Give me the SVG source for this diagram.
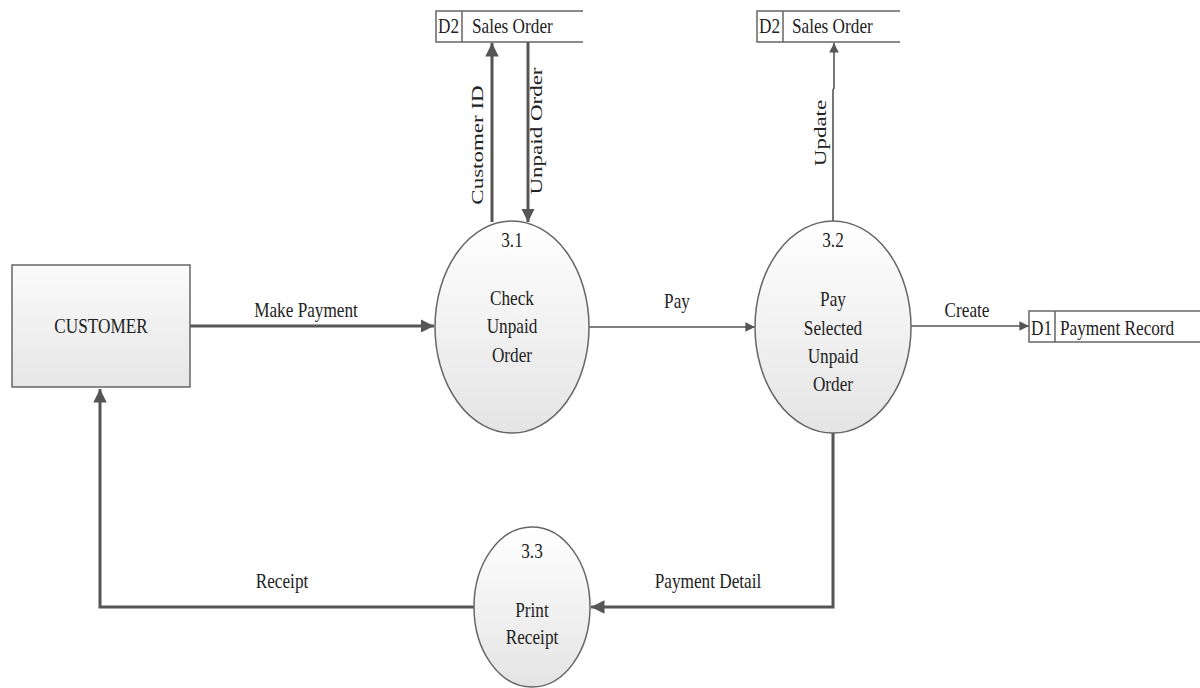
<svg xmlns="http://www.w3.org/2000/svg" width="1200" height="688" viewBox="0 0 1200 688">
  <defs>
    <linearGradient id="procFill" x1="0" y1="0" x2="0" y2="1">
      <stop offset="0" stop-color="#ffffff"/>
      <stop offset="1" stop-color="#e4e4e4"/>
    </linearGradient>
    <linearGradient id="entFill" x1="0" y1="0" x2="0" y2="1">
      <stop offset="0" stop-color="#fbfbfb"/>
      <stop offset="1" stop-color="#e6e6e6"/>
    </linearGradient>
    <marker id="arrowBig" viewBox="0 0 10 10" refX="10" refY="5" markerWidth="4.5" markerHeight="4.5" markerUnits="strokeWidth" orient="auto">
      <path d="M0,0 L10,5 L0,10 Z" fill="#555"/>
    </marker>
    <marker id="arrowSmall" viewBox="0 0 10 10" refX="10" refY="5" markerWidth="6" markerHeight="6" markerUnits="strokeWidth" orient="auto">
      <path d="M0,0 L10,5 L0,10 Z" fill="#555"/>
    </marker>
  </defs>
  <style>
    text { font-family: "Liberation Serif", "Times New Roman", serif; font-size: 21px; fill: #222; }
    text.v { font-size: 23px; }
    .mid { text-anchor: middle; }
    .proc { fill: url(#procFill); stroke: #666; stroke-width: 1.5; }
    .ent { fill: url(#entFill); stroke: #666; stroke-width: 1.5; }
    .store { fill: none; stroke: #666; stroke-width: 1.5; }
    .thick { fill: none; stroke: #555; stroke-width: 3; }
    .thin { fill: none; stroke: #555; stroke-width: 1.6; }
  </style>

  <rect width="1200" height="688" fill="#ffffff"/>

  <!-- data flows (labels use narrow, tall lettering via scale) -->
  <g id="connectors">
    <line class="thick" x1="190" y1="326" x2="434" y2="326" marker-end="url(#arrowBig)"/>
    <line class="thick" x1="492" y1="222" x2="492" y2="43" marker-end="url(#arrowBig)"/>
    <line class="thick" x1="528" y1="42" x2="528" y2="222" marker-end="url(#arrowBig)"/>
    <line class="thin" x1="589" y1="327" x2="755" y2="327" marker-end="url(#arrowSmall)"/>
    <path class="thin" d="M833,221 L833,90 L834,88 L834,43" marker-end="url(#arrowSmall)"/>
    <line class="thin" x1="911" y1="326" x2="1029" y2="326" marker-end="url(#arrowSmall)"/>
    <path class="thick" d="M833,432 L833,607 L591,607" marker-end="url(#arrowBig)"/>
    <path class="thick" d="M474,607 L100,607 L100,389" marker-end="url(#arrowBig)"/>

    <text class="mid" transform="translate(306,317) scale(0.82,1)">Make Payment</text>
    <text class="mid v" transform="translate(483,145) rotate(-90) scale(1,0.76)">Customer ID</text>
    <text class="mid v" transform="translate(542,131) rotate(-90) scale(1,0.76)">Unpaid Order</text>
    <text class="mid" transform="translate(677,308) scale(0.82,1)">Pay</text>
    <text class="mid v" transform="translate(826,133) rotate(-90) scale(1,0.76)">Update</text>
    <text class="mid" transform="translate(967,317) scale(0.82,1)">Create</text>
    <text class="mid" transform="translate(708,588) scale(0.82,1)">Payment Detail</text>
    <text class="mid" transform="translate(282,588) scale(0.82,1)">Receipt</text>
  </g>

  <!-- external entity -->
  <g id="customer">
    <rect class="ent" x="12" y="265" width="178" height="122"/>
    <text class="mid" transform="translate(101,333) scale(0.82,1)">CUSTOMER</text>
  </g>

  <!-- processes -->
  <g id="p3-1">
    <ellipse class="proc" cx="512" cy="327" rx="77" ry="106"/>
    <text class="mid" transform="translate(512,247) scale(0.82,1)">3.1</text>
    <text class="mid" transform="translate(512,305) scale(0.82,1)">Check</text>
    <text class="mid" transform="translate(512,333) scale(0.82,1)">Unpaid</text>
    <text class="mid" transform="translate(512,362) scale(0.82,1)">Order</text>
  </g>

  <g id="p3-2">
    <ellipse class="proc" cx="833" cy="327" rx="78" ry="106"/>
    <text class="mid" transform="translate(833,247) scale(0.82,1)">3.2</text>
    <text class="mid" transform="translate(833,306) scale(0.82,1)">Pay</text>
    <text class="mid" transform="translate(833,335) scale(0.82,1)">Selected</text>
    <text class="mid" transform="translate(833,363) scale(0.82,1)">Unpaid</text>
    <text class="mid" transform="translate(833,391) scale(0.82,1)">Order</text>
  </g>

  <g id="p3-3">
    <ellipse class="proc" cx="532" cy="607" rx="58" ry="80"/>
    <text class="mid" transform="translate(532,558) scale(0.82,1)">3.3</text>
    <text class="mid" transform="translate(532,617) scale(0.82,1)">Print</text>
    <text class="mid" transform="translate(532,644) scale(0.82,1)">Receipt</text>
  </g>

  <!-- data stores -->
  <g id="d2-left">
    <path class="store" d="M583,11 L436,11 L436,42 L583,42 M462,11 L462,42"/>
    <text transform="translate(438,33) scale(0.82,1)">D2</text>
    <text transform="translate(472,33) scale(0.82,1)">Sales Order</text>
  </g>

  <g id="d2-right">
    <path class="store" d="M900,11 L757,11 L757,42 L900,42 M783,11 L783,42"/>
    <text transform="translate(759,33) scale(0.82,1)">D2</text>
    <text transform="translate(792,33) scale(0.82,1)">Sales Order</text>
  </g>

  <g id="d1">
    <path class="store" d="M1200,311 L1029,311 L1029,342 L1200,342 M1055,311 L1055,342"/>
    <text transform="translate(1031,335) scale(0.82,1)">D1</text>
    <text transform="translate(1060,335) scale(0.82,1)">Payment Record</text>
  </g>
</svg>
